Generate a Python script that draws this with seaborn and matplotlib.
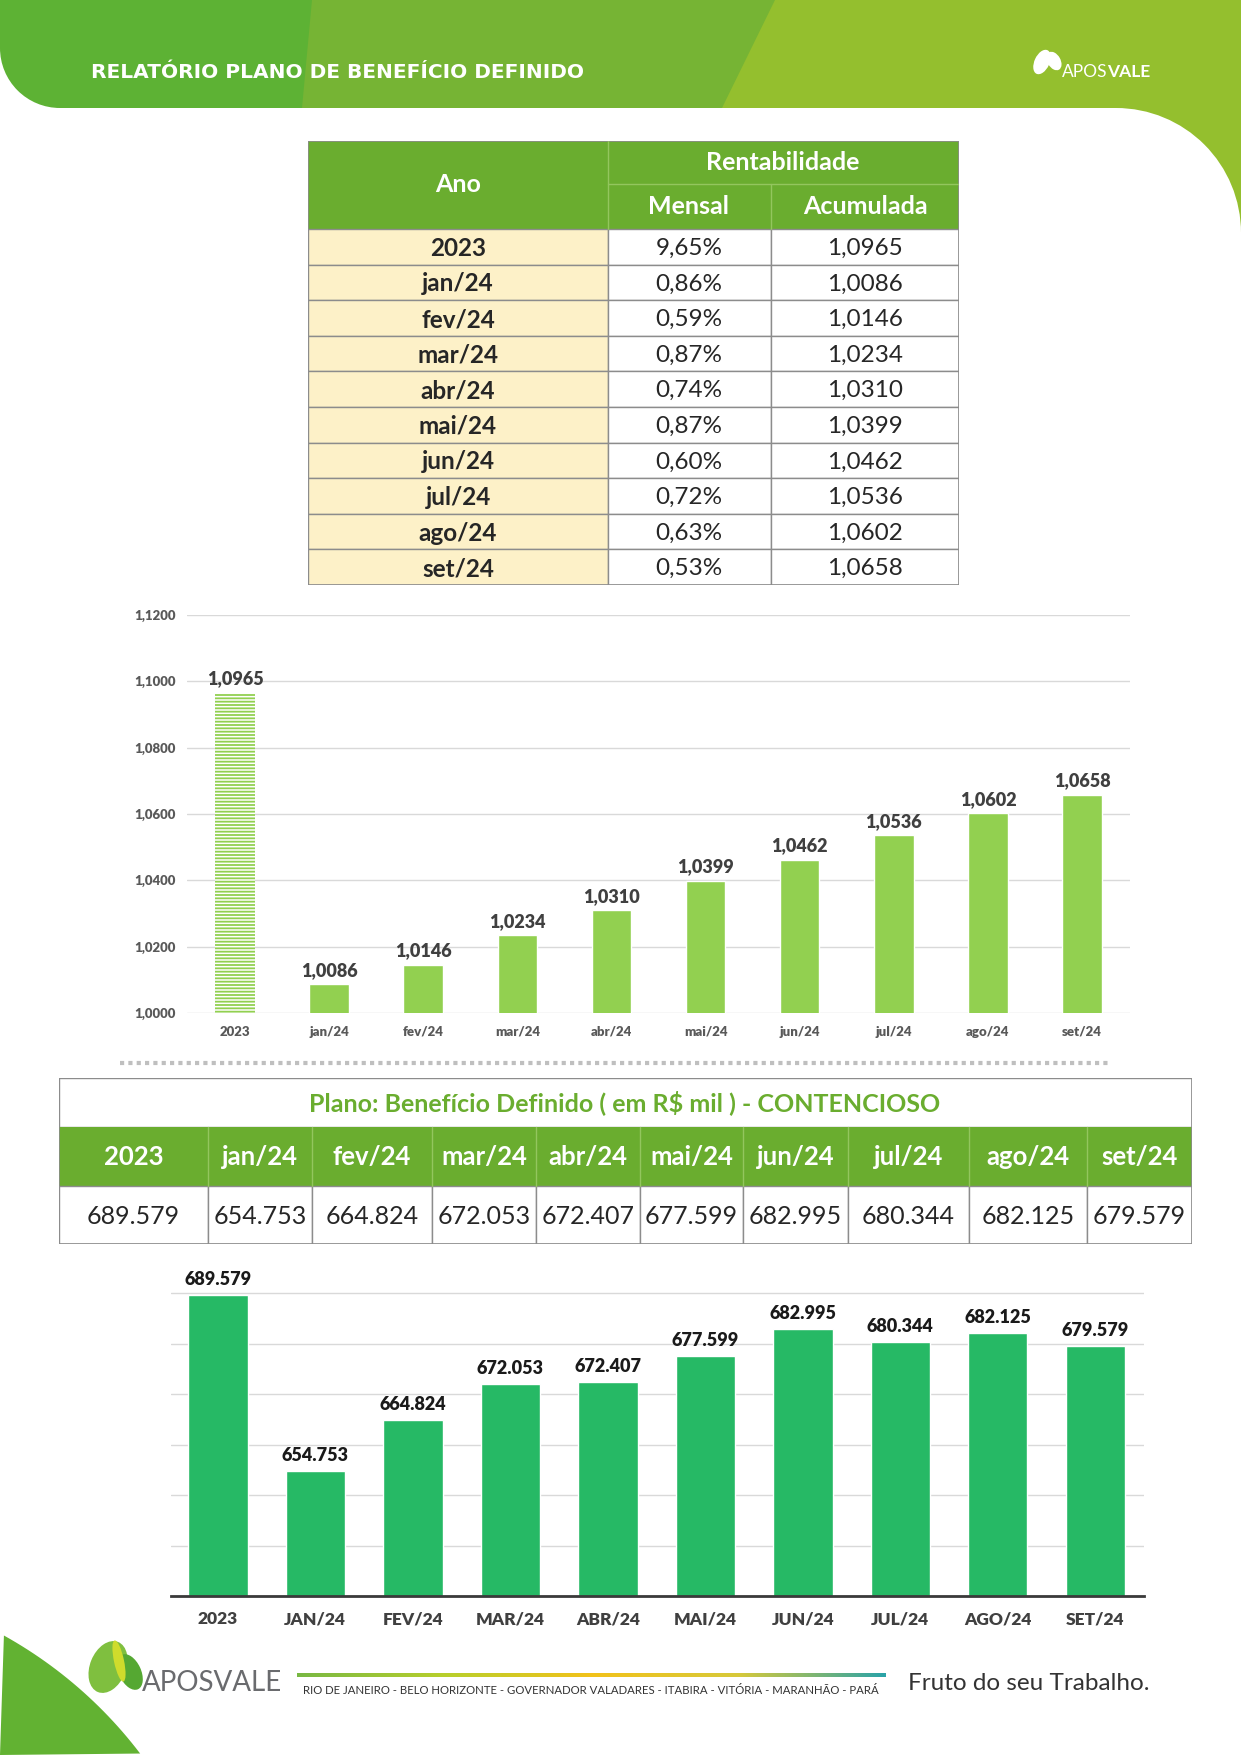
import numpy as np
import pandas as pd
import matplotlib
matplotlib.use("Agg")
import matplotlib.pyplot as plt
import seaborn as sns
from matplotlib.patches import Rectangle, Circle, Polygon, Ellipse
from matplotlib.ticker import FuncFormatter
from matplotlib.colors import LinearSegmentedColormap

# --- data ---
periods = ["2023", "jan/24", "fev/24", "mar/24", "abr/24", "mai/24",
           "jun/24", "jul/24", "ago/24", "set/24"]
mensal = [9.65, 0.86, 0.59, 0.87, 0.74, 0.87, 0.60, 0.72, 0.63, 0.53]
acumulada = [1.0965, 1.0086, 1.0146, 1.0234, 1.0310, 1.0399,
             1.0462, 1.0536, 1.0602, 1.0658]
contencioso = [689.579, 654.753, 664.824, 672.053, 672.407, 677.599,
               682.995, 680.344, 682.125, 679.579]
cities = ["RIO DE JANEIRO", "BELO HORIZONTE", "GOVERNADOR VALADARES",
          "ITABIRA", "VITÓRIA", "MARANHÃO", "PARÁ"]

W, H = 1241, 1755
DARK = "#5db234"
MID = "#76b434"
LIGHT = "#94bf2e"
HEAD = "#6aad2f"
CREAM = "#fdf1c8"
BAR1 = "#92d050"
BAR2 = "#26b965"
GRID = "#d9d9d9"
TXT = "#262626"

sns.set_style("white")
plt.rcParams["font.family"] = ["Lato", "DejaVu Sans"]
plt.rcParams["hatch.linewidth"] = 1.3


def br(v, nd):
    return f"{v:.{nd}f}".replace(".", ",")


fig = plt.figure(figsize=(W / 100, H / 100), dpi=100)
bg = fig.add_axes([0, 0, 1, 1], zorder=0)
bg.set_xlim(0, W)
bg.set_ylim(H, 0)
bg.axis("off")


def px_axes(x0, y0, x1, y1):
    return fig.add_axes([x0 / W, 1 - y1 / H, (x1 - x0) / W, (y1 - y0) / H], zorder=2)


# header band
bg.add_patch(Rectangle((0, 0), W, 108, color=LIGHT, lw=0))
bg.add_patch(Polygon([(0, 0), (775, 0), (722, 108), (0, 108)], color=MID, lw=0))
bg.add_patch(Polygon([(0, 0), (312, 0), (302, 108), (0, 108)], color=DARK, lw=0))
r = 60
bg.add_patch(Rectangle((0, 108 - r), r, r, color="white", lw=0))
bg.add_patch(Circle((r, 108 - r), r, color=DARK, lw=0))
R = 125
bg.add_patch(Rectangle((W - R, 107), R, R, color=LIGHT, lw=0))
bg.add_patch(Circle((W - R, 108 + R), R, color="white", lw=0))
bg.text(91, 72, "RELATÓRIO PLANO DE BENEFÍCIO DEFINIDO", color="white",
        fontsize=14.5, fontweight="bold", family="DejaVu Sans", va="center")
bg.add_patch(Ellipse((1042, 62), 15, 26, angle=25, color="white", lw=0))
bg.add_patch(Ellipse((1054, 61), 13, 20, angle=-30, color="white", lw=0))
bg.text(1062, 72, "APOS", color="white", fontsize=12.5, va="center")
bg.text(1107, 72, "VALE", color="white", fontsize=12.5, fontweight="bold", va="center")

# footer
cx, cy, cr = -210, 2020, 440
ang = np.linspace(np.pi / 2, 0, 100)
arc = [(cx + cr * np.cos(a), cy - cr * np.sin(a)) for a in ang]
bg.add_patch(Polygon([(0, H)] + [(x, y) for x, y in arc if x >= 0 and y <= H] + [(0, H)],
                     color="#62b232", lw=0))
bg.add_patch(Ellipse((108, 1667), 36, 54, angle=22, color="#7fbf3f", lw=0))
bg.add_patch(Ellipse((130, 1672), 22, 38, angle=-25, color="#55a832", lw=0))
bg.add_patch(Ellipse((119, 1661), 10, 42, angle=-12, color="#cfdc2c", lw=0))
bg.text(142, 1683, "APOSVALE", color="#6a6b6e", fontsize=20, va="center")
grad = LinearSegmentedColormap.from_list("g", ["#78b843", "#b8cf2c", "#f2c21a", "#d7c93a", "#2aa3a8"])
bg.imshow(np.linspace(0, 1, 256)[None, :], cmap=grad, aspect="auto",
          extent=(297, 886, 1677, 1673))
bg.set_xlim(0, W)
bg.set_ylim(H, 0)
bg.text(303, 1690, " - ".join(cities), color="#333333", fontsize=8.2, va="center")
bg.text(908, 1683, "Fruto do seu Trabalho.", color="#333333", fontsize=17.5, va="center")

# dotted separator
bg.plot([120, 1108], [1063, 1063], color="#bfbfbf", lw=3, ls=(0, (1, 1)))

# --- table 1: rentabilidade ---
t1 = px_axes(308, 141, 959, 585)
t1.set_xlim(0, 651)
t1.set_ylim(444, 0)
t1.axis("off")
rh = (444 - 88) / len(periods)
t1.add_patch(Rectangle((0, 0), 651, 88, color=HEAD, lw=0))
t1.plot([300, 300], [0, 88], color="#93c65e", lw=1)
t1.plot([300, 651], [43, 43], color="#93c65e", lw=1)
t1.plot([463, 463], [43, 88], color="#93c65e", lw=1)
hdr = dict(color="white", fontsize=18, fontweight="bold", ha="center", va="center")
t1.text(150, 44, "Ano", **hdr)
t1.text(475, 21, "Rentabilidade", **hdr)
t1.text(381, 66, "Mensal", **hdr)
t1.text(557, 66, "Acumulada", **hdr)
for i, (p, m, a) in enumerate(zip(periods, mensal, acumulada)):
    y0 = 88 + i * rh
    t1.add_patch(Rectangle((0, y0), 300, rh, facecolor=CREAM, edgecolor="#8c8c8c", lw=1))
    t1.add_patch(Rectangle((300, y0), 163, rh, facecolor="white", edgecolor="#8c8c8c", lw=1))
    t1.add_patch(Rectangle((463, y0), 188, rh, facecolor="white", edgecolor="#8c8c8c", lw=1))
    yc = y0 + rh / 2 + 1.5
    t1.text(150, yc, p, color=TXT, fontsize=17.5, fontweight="bold", ha="center", va="center")
    t1.text(381, yc, br(m, 2) + "%", color=TXT, fontsize=17.5, ha="center", va="center")
    t1.text(557, yc, br(a, 4), color=TXT, fontsize=17.5, ha="center", va="center")
t1.add_patch(Rectangle((0, 0), 651, 444, fill=False, edgecolor="#8c8c8c", lw=1.2))

# --- chart 1: acumulada ---
df = pd.DataFrame({"periodo": periods, "mensal": mensal,
                   "acumulada": acumulada, "contencioso": contencioso})
ax1 = px_axes(187, 615, 1130, 1013)
sns.barplot(data=df, x="periodo", y="acumulada", color=BAR1, saturation=1,
            width=0.42, ax=ax1)
first = ax1.patches[0]
first.set_facecolor("white")
first.set_edgecolor(BAR1)
first.set_hatch("-----")
first.set_linewidth(0)
ax1.set_ylim(1.0, 1.12)
ax1.set_xlim(-0.51, 9.51)
ax1.set_yticks(np.arange(1.0, 1.1201, 0.02))
ax1.yaxis.set_major_formatter(FuncFormatter(lambda v, _: br(v, 4)))
ax1.grid(axis="y", color=GRID, lw=1)
ax1.set_axisbelow(True)
sns.despine(ax=ax1, left=True, bottom=True)
ax1.set_xlabel("")
ax1.set_ylabel("")
ax1.tick_params(axis="both", length=0, labelsize=9.5, labelcolor="#595959")
ax1.tick_params(axis="y", pad=8)
ax1.tick_params(axis="x", pad=9)
for lab in ax1.get_xticklabels() + ax1.get_yticklabels():
    lab.set_fontweight("heavy")
ax1.bar_label(ax1.containers[0], labels=[br(v, 4) for v in acumulada],
              padding=4, fontsize=13, fontweight="heavy", color="#404040")
ax1.patch.set_alpha(0)

# --- table 2: contencioso ---
t2 = px_axes(59, 1078, 1192, 1244)
t2.set_xlim(0, 1133)
t2.set_ylim(166, 0)
t2.axis("off")
c2 = [0, 149, 253, 373, 477, 581, 684, 789, 910, 1028, 1133]
t2.add_patch(Rectangle((0, 0), 1133, 49, facecolor="white", edgecolor="#8c8c8c", lw=1))
t2.text(566, 25, "Plano: Benefício Definido ( em R$ mil ) - CONTENCIOSO", color=HEAD,
        fontsize=18, fontweight="bold", ha="center", va="center")
t2.add_patch(Rectangle((0, 49), 1133, 59, color=HEAD, lw=0))
for i, (p, v) in enumerate(zip(periods, contencioso)):
    x0, x1 = c2[i], c2[i + 1]
    xc = (x0 + x1) / 2
    if i > 0:
        t2.plot([x0, x0], [49, 108], color="#93c65e", lw=1)
    t2.add_patch(Rectangle((x0, 108), x1 - x0, 58, facecolor="white", edgecolor="#8c8c8c", lw=1))
    t2.text(xc, 79, p, color="white", fontsize=18.5, fontweight="bold", ha="center", va="center")
    t2.text(xc, 139, f"{v:.3f}", color=TXT, fontsize=18, ha="center", va="center")
t2.add_patch(Rectangle((0, 0), 1133, 166, fill=False, edgecolor="#8c8c8c", lw=1.2))

# --- chart 2: contencioso ---
ax2 = px_axes(171, 1268, 1144, 1596)
sns.barplot(data=df, x="periodo", y="contencioso", color=BAR2, saturation=1,
            width=0.61, ax=ax2)
ax2.set_ylim(630, 695)
ax2.set_xlim(-0.48, 9.5)
ax2.set_yticks(np.arange(630, 691, 10))
ax2.grid(axis="y", color=GRID, lw=1)
ax2.set_axisbelow(True)
sns.despine(ax=ax2, left=True, top=True, right=True)
ax2.spines["bottom"].set_color("#3a3a3a")
ax2.spines["bottom"].set_linewidth(2)
ax2.set_yticklabels([])
ax2.set_xlabel("")
ax2.set_ylabel("")
ax2.set_xticks(range(len(periods)))
ax2.set_xticklabels([p.upper() for p in periods], fontweight="heavy")
ax2.tick_params(axis="both", length=0)
ax2.tick_params(axis="x", labelsize=12.5, labelcolor="#404040", pad=11)
ax2.bar_label(ax2.containers[0], labels=[f"{v:.3f}" for v in contencioso],
              padding=5, fontsize=13, fontweight="heavy", color="#1a1a1a")
ax2.patch.set_alpha(0)

fig.savefig("out.png", dpi=100)
